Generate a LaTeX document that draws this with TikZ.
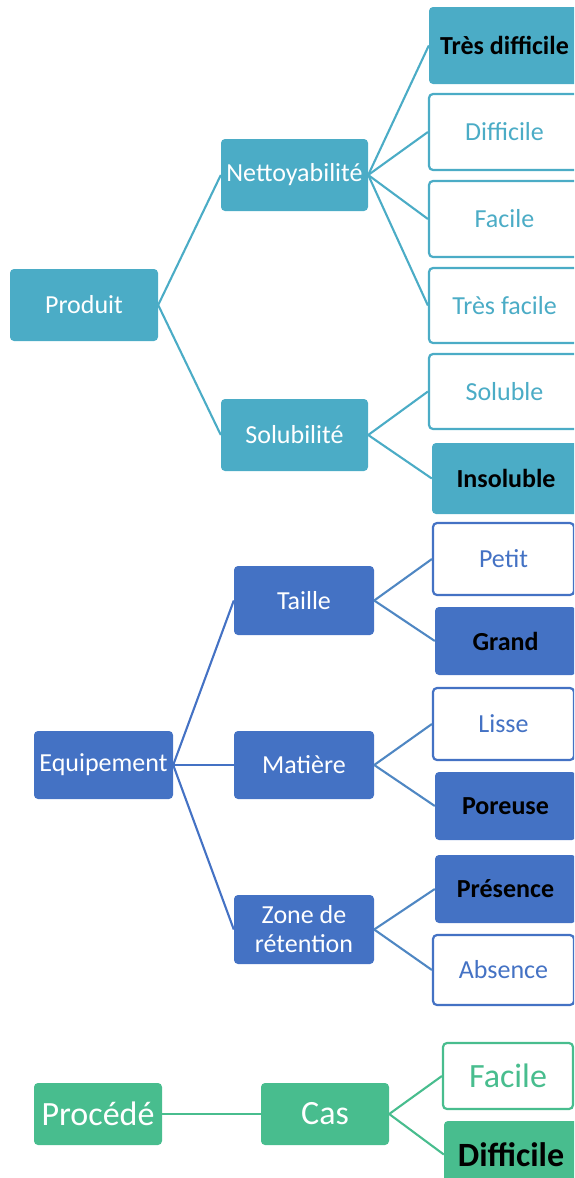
\documentclass[tikz,border=0pt]{standalone}
\usepackage{fontspec}
\setmainfont{Carlito}
\definecolor{teal}{HTML}{4BACC6}
\definecolor{blu}{HTML}{4472C4}
\definecolor{blul}{HTML}{4F87C3}
\definecolor{grn}{HTML}{48BD8E}
\newcommand\bx[7]{\node[#6, minimum width={#4pt-#2pt}, minimum height={#5pt-#3pt}] (#1) at ({(#2+#4)/2},{(#3+#5)/2}) {#7};}
\begin{document}
\begin{tikzpicture}[x=1pt,y=-1pt,
  base/.style={rounded corners=4pt, inner sep=0pt, align=center, font=\fontsize{26}{29}\selectfont},
  parent/.style={base, fill=#1, text=white},
  leafon/.style={base, fill=#1, text=black, font=\fontsize{26}{29}\selectfont\bfseries},
  leafoff/.style={base, draw=#1, line width=2.2pt, fill=white, text=#1},
  big/.style={font=\fontsize{34}{40}\selectfont},
  bigb/.style={font=\fontsize{34}{40}\selectfont\bfseries},
  link/.style={draw=#1, line width=2.1pt}]
\useasboundingbox (0,0) rectangle (574,1178);
\clip (0,0) rectangle (574,1178);
% teal group
\bx{produit}{10}{269}{158}{341}{parent=teal}{Produit}
\bx{nett}{221}{139}{368}{211}{parent=teal}{Nettoyabilité}
\bx{solu}{221}{399}{368}{471}{parent=teal}{Solubilité}
\bx{tdiff}{429}{7}{580}{84}{leafon=teal}{Très difficile}
\bx{diff}{429}{94}{580}{170}{leafoff=teal}{Difficile}
\bx{fac}{429}{181}{580}{257}{leafoff=teal}{Facile}
\bx{tfac}{429}{268}{580}{343}{leafoff=teal}{Très facile}
\bx{sol}{429}{354}{580}{429}{leafoff=teal}{Soluble}
\bx{insol}{432}{443}{580}{514}{leafon=teal}{Insoluble}
\draw[link=teal] (produit.east) -- (nett.west);
\draw[link=teal] (produit.east) -- (solu.west);
\foreach \c in {tdiff,diff,fac,tfac} \draw[link=teal] (nett.east) -- (\c.west);
\foreach \c in {sol,insol} \draw[link=teal] (solu.east) -- (\c.west);
% blue group
\bx{equip}{34}{731}{173}{799}{parent=blu}{Equipement}
\bx{taille}{234}{566}{374}{635}{parent=blu}{Taille}
\bx{mat}{234}{731}{374}{799}{parent=blu}{Matière}
\bx{zone}{234}{895}{374}{964}{parent=blu}{Zone de\\rétention}
\bx{petit}{433}{523}{574}{595}{leafoff=blu}{Petit}
\bx{grand}{435}{607}{576}{675}{leafon=blu}{Grand}
\bx{lisse}{433}{688}{574}{760}{leafoff=blu}{Lisse}
\bx{poreuse}{435}{772}{576}{840}{leafon=blu}{Poreuse}
\bx{pres}{435}{855}{576}{923}{leafon=blu}{Présence}
\bx{abs}{433}{935}{574}{1005}{leafoff=blu}{Absence}
\foreach \c in {taille,mat,zone} \draw[link=blu] (equip.east) -- (\c.west);
\foreach \c in {petit,grand} \draw[link=blul] (taille.east) -- (\c.west);
\foreach \c in {lisse,poreuse} \draw[link=blul] (mat.east) -- (\c.west);
\foreach \c in {pres,abs} \draw[link=blul] (zone.east) -- (\c.west);
% green group
\bx{proc}{34}{1083}{162}{1145}{parent=grn,big}{Procédé}
\bx{cas}{261}{1083}{389}{1145}{parent=grn,big}{Cas}
\bx{gfac}{443}{1043}{573}{1109}{leafoff=grn,big}{Facile}
\bx{gdiff}{444}{1121}{578}{1188}{leafon=grn,bigb}{Difficile}
\draw[link=grn] (proc.east) -- (cas.west);
\foreach \c in {gfac,gdiff} \draw[link=grn] (cas.east) -- (\c.west);
\end{tikzpicture}
\end{document}
